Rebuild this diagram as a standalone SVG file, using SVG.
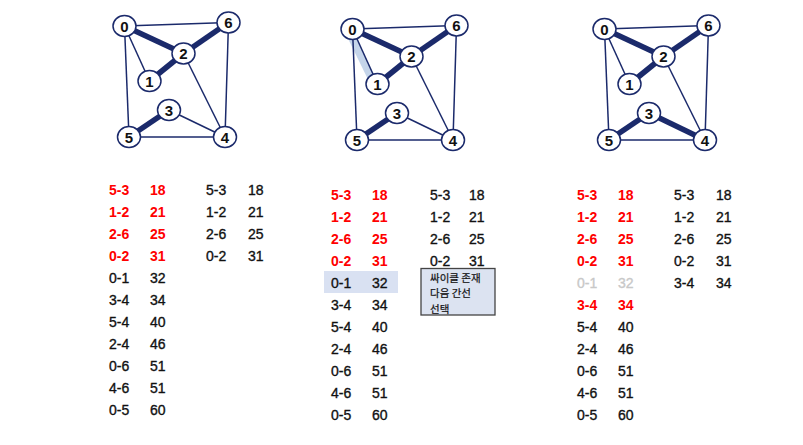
<svg xmlns="http://www.w3.org/2000/svg" width="803" height="445" viewBox="0 0 803 445">
<style>
.e{stroke:#1b2a6b;stroke-width:1.5;fill:none}
.t{stroke:#1b2a6b;stroke-width:5.5;fill:none}
.nd ellipse{fill:#fff;stroke:#1b2a6b;stroke-width:1.5}
.nd text{font-family:"Liberation Sans",Arial,sans-serif;font-weight:bold;font-size:15px;fill:#111;text-anchor:middle}
.l text{font-family:"Liberation Sans",Arial,sans-serif;font-size:14px;fill:#111;stroke:#111;stroke-width:0.35}
.l text.r{fill:#f00;stroke:none;font-weight:bold}
.l text.g{fill:#c8c8c8;stroke:#c8c8c8}
.k{font-family:"Noto Sans CJK KR","Noto Sans",sans-serif;font-size:10.5px;fill:#111;stroke:#111;stroke-width:0.2}
</style>
<defs>
<g id="base">
<line class="e" x1="124.5" y1="26" x2="228.5" y2="22.5"/>
<line class="e" x1="124.5" y1="26" x2="149.5" y2="81"/>
<line class="e" x1="124.5" y1="26" x2="129" y2="137"/>
<line class="e" x1="183.5" y1="53.5" x2="225" y2="137"/>
<line class="e" x1="228.5" y1="22.5" x2="225" y2="137"/>
<line class="e" x1="129" y1="137" x2="225" y2="137"/>
<line class="t" x1="124.5" y1="26" x2="183.5" y2="53.5"/>
<line class="t" x1="183.5" y1="53.5" x2="228.5" y2="22.5"/>
<line class="t" x1="149.5" y1="81" x2="183.5" y2="53.5"/>
<line class="t" x1="169" y1="110" x2="129" y2="137"/>
</g>
</defs>
<g id="connectors">
<g id="g1-edges">
<use href="#base"/>
<line class="e" x1="169" y1="110" x2="225" y2="137"/>
</g>
<g id="g2-edges" transform="translate(228,3)">
<line x1="121.5" y1="30" x2="145.5" y2="79" stroke="#c5d5ea" stroke-width="7.5"/>
<use href="#base"/>
<line class="e" x1="169" y1="110" x2="225" y2="137"/>
</g>
<g id="g3-edges" transform="translate(480,3)">
<use href="#base"/>
<line class="t" x1="169" y1="110" x2="225" y2="137"/>
</g>
</g>
<g id="g1-nodes">
<g id="g1-n0" class="nd"><ellipse cx="124.5" cy="26" rx="11.5" ry="10.5"/><text x="124.5" y="31.5">0</text></g>
<g id="g1-n6" class="nd"><ellipse cx="228.5" cy="22.5" rx="11.5" ry="10.5"/><text x="228.5" y="28">6</text></g>
<g id="g1-n2" class="nd"><ellipse cx="183.5" cy="53.5" rx="11.5" ry="10.5"/><text x="183.5" y="59">2</text></g>
<g id="g1-n1" class="nd"><ellipse cx="149.5" cy="81" rx="11.5" ry="10.5"/><text x="149.5" y="86.5">1</text></g>
<g id="g1-n3" class="nd"><ellipse cx="169" cy="110" rx="11.5" ry="10.5"/><text x="169" y="115.5">3</text></g>
<g id="g1-n5" class="nd"><ellipse cx="129" cy="137" rx="11.5" ry="10.5"/><text x="129" y="142.5">5</text></g>
<g id="g1-n4" class="nd"><ellipse cx="225" cy="137" rx="11.5" ry="10.5"/><text x="225" y="142.5">4</text></g>
</g>
<g id="g2-nodes" transform="translate(228,3)">
<g id="g2-n0" class="nd"><ellipse cx="124.5" cy="26" rx="11.5" ry="10.5"/><text x="124.5" y="31.5">0</text></g>
<g id="g2-n6" class="nd"><ellipse cx="228.5" cy="22.5" rx="11.5" ry="10.5"/><text x="228.5" y="28">6</text></g>
<g id="g2-n2" class="nd"><ellipse cx="183.5" cy="53.5" rx="11.5" ry="10.5"/><text x="183.5" y="59">2</text></g>
<g id="g2-n1" class="nd"><ellipse cx="149.5" cy="81" rx="11.5" ry="10.5"/><text x="149.5" y="86.5">1</text></g>
<g id="g2-n3" class="nd"><ellipse cx="169" cy="110" rx="11.5" ry="10.5"/><text x="169" y="115.5">3</text></g>
<g id="g2-n5" class="nd"><ellipse cx="129" cy="137" rx="11.5" ry="10.5"/><text x="129" y="142.5">5</text></g>
<g id="g2-n4" class="nd"><ellipse cx="225" cy="137" rx="11.5" ry="10.5"/><text x="225" y="142.5">4</text></g>
</g>
<g id="g3-nodes" transform="translate(480,3)">
<g id="g3-n0" class="nd"><ellipse cx="124.5" cy="26" rx="11.5" ry="10.5"/><text x="124.5" y="31.5">0</text></g>
<g id="g3-n6" class="nd"><ellipse cx="228.5" cy="22.5" rx="11.5" ry="10.5"/><text x="228.5" y="28">6</text></g>
<g id="g3-n2" class="nd"><ellipse cx="183.5" cy="53.5" rx="11.5" ry="10.5"/><text x="183.5" y="59">2</text></g>
<g id="g3-n1" class="nd"><ellipse cx="149.5" cy="81" rx="11.5" ry="10.5"/><text x="149.5" y="86.5">1</text></g>
<g id="g3-n3" class="nd"><ellipse cx="169" cy="110" rx="11.5" ry="10.5"/><text x="169" y="115.5">3</text></g>
<g id="g3-n5" class="nd"><ellipse cx="129" cy="137" rx="11.5" ry="10.5"/><text x="129" y="142.5">5</text></g>
<g id="g3-n4" class="nd"><ellipse cx="225" cy="137" rx="11.5" ry="10.5"/><text x="225" y="142.5">4</text></g>
</g>
<g id="list1" class="l">
<text x="109" y="195" class="r">5-3</text><text x="150" y="195" class="r">18</text>
<text x="109" y="217" class="r">1-2</text><text x="150" y="217" class="r">21</text>
<text x="109" y="239" class="r">2-6</text><text x="150" y="239" class="r">25</text>
<text x="109" y="261" class="r">0-2</text><text x="150" y="261" class="r">31</text>
<text x="109" y="283">0-1</text><text x="150" y="283">32</text>
<text x="109" y="305">3-4</text><text x="150" y="305">34</text>
<text x="109" y="327">5-4</text><text x="150" y="327">40</text>
<text x="109" y="349">2-4</text><text x="150" y="349">46</text>
<text x="109" y="371">0-6</text><text x="150" y="371">51</text>
<text x="109" y="393">4-6</text><text x="150" y="393">51</text>
<text x="109" y="415">0-5</text><text x="150" y="415">60</text>
<text x="206" y="195">5-3</text><text x="248" y="195">18</text>
<text x="206" y="217">1-2</text><text x="248" y="217">21</text>
<text x="206" y="239">2-6</text><text x="248" y="239">25</text>
<text x="206" y="261">0-2</text><text x="248" y="261">31</text>
</g>
<g id="list2" class="l">
<rect x="324" y="271" width="74" height="22" fill="#d9e1f2"/>
<text x="331" y="200" class="r">5-3</text><text x="372" y="200" class="r">18</text>
<text x="331" y="222" class="r">1-2</text><text x="372" y="222" class="r">21</text>
<text x="331" y="244" class="r">2-6</text><text x="372" y="244" class="r">25</text>
<text x="331" y="266" class="r">0-2</text><text x="372" y="266" class="r">31</text>
<text x="331" y="288">0-1</text><text x="372" y="288">32</text>
<text x="331" y="310">3-4</text><text x="372" y="310">34</text>
<text x="331" y="332">5-4</text><text x="372" y="332">40</text>
<text x="331" y="354">2-4</text><text x="372" y="354">46</text>
<text x="331" y="376">0-6</text><text x="372" y="376">51</text>
<text x="331" y="398">4-6</text><text x="372" y="398">51</text>
<text x="331" y="420">0-5</text><text x="372" y="420">60</text>
<text x="430" y="200">5-3</text><text x="469" y="200">18</text>
<text x="430" y="222">1-2</text><text x="469" y="222">21</text>
<text x="430" y="244">2-6</text><text x="469" y="244">25</text>
<text x="430" y="266">0-2</text><text x="469" y="266">31</text>
</g>
<g id="note">
<rect x="421" y="268.5" width="74" height="46.5" fill="#dce3f1" stroke="#444" stroke-width="1.3"/>
<text class="k" x="430" y="282">싸이클 존재</text>
<text class="k" x="430" y="297.3">다음 간선</text>
<text class="k" x="430" y="312.6">선택</text>
</g>
<g id="list3" class="l">
<text x="577" y="200" class="r">5-3</text><text x="618" y="200" class="r">18</text>
<text x="577" y="222" class="r">1-2</text><text x="618" y="222" class="r">21</text>
<text x="577" y="244" class="r">2-6</text><text x="618" y="244" class="r">25</text>
<text x="577" y="266" class="r">0-2</text><text x="618" y="266" class="r">31</text>
<text x="577" y="288" class="g">0-1</text><text x="618" y="288" class="g">32</text>
<text x="577" y="310" class="r">3-4</text><text x="618" y="310" class="r">34</text>
<text x="577" y="332">5-4</text><text x="618" y="332">40</text>
<text x="577" y="354">2-4</text><text x="618" y="354">46</text>
<text x="577" y="376">0-6</text><text x="618" y="376">51</text>
<text x="577" y="398">4-6</text><text x="618" y="398">51</text>
<text x="577" y="420">0-5</text><text x="618" y="420">60</text>
<text x="674" y="200">5-3</text><text x="716" y="200">18</text>
<text x="674" y="222">1-2</text><text x="716" y="222">21</text>
<text x="674" y="244">2-6</text><text x="716" y="244">25</text>
<text x="674" y="266">0-2</text><text x="716" y="266">31</text>
<text x="674" y="288">3-4</text><text x="716" y="288">34</text>
</g>
</svg>
